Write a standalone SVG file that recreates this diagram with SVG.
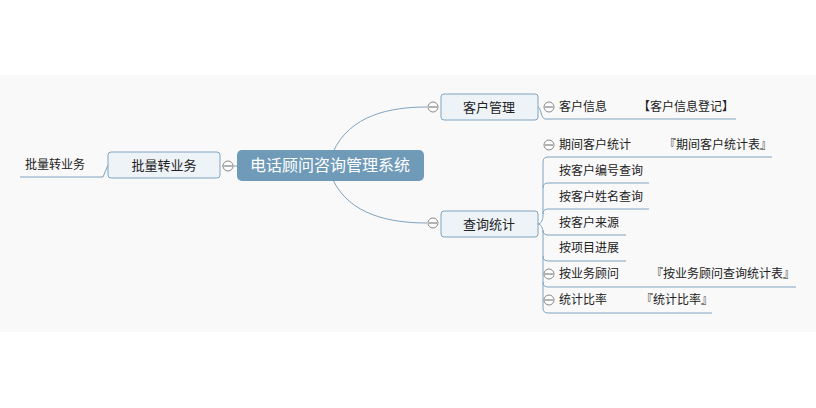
<svg xmlns="http://www.w3.org/2000/svg" width="816" height="408" viewBox="0 0 816 408">
<style>
text{font-family:"Noto Sans CJK SC","Noto Sans",sans-serif;fill:#222}
.t{font-size:12px}
.b{font-size:13px;text-anchor:middle}
.box{fill:#eef3f8;stroke:#7fa3c0;stroke-width:1}
.c{fill:none;stroke:#7fa3c0;stroke-width:1}
.col{fill:#fff;stroke:#888;stroke-width:1}
</style>
<rect x="0" y="0" width="816" height="408" fill="#fff"/>
<rect x="0" y="75" width="816" height="257" fill="#f9f9f9"/>
<g id="connectors">
<path class="c" d="M333 152 C350 115,390 107,427 107"/>
<path class="c" d="M333 180 C350 215,390 223,427 223"/>
<line class="c" x1="222" y1="166" x2="237" y2="166"/>
<path class="c" d="M20 177 H103 L108 165"/>
<path class="c" d="M538 107 C541 107,541 119,545 119 H736"/>
<path class="c" d="M538 224 C541 224,543 220,543 215 V162 Q543 157,548 157 H772"/>
<path class="c" d="M538 224 C541 224,543 228,543 233 V308 Q543 313,548 313 H712"/>
<path class="c" d="M543 188 Q543 183,548 183 H649"/>
<path class="c" d="M543 214 Q543 209,548 209 H649"/>
<path class="c" d="M543 230 Q543 235,548 235 H626"/>
<path class="c" d="M543 256 Q543 261,548 261 H626"/>
<path class="c" d="M543 282 Q543 287,548 287 H796"/>
</g>
<g id="root"><rect x="237" y="150" width="187" height="31" rx="5" fill="#6f9ab8"/><text x="330" y="171" style="font-size:16px;fill:#fff;text-anchor:middle">电话顾问咨询管理系统</text></g>
<g id="n-batch"><rect class="box" x="108" y="152" width="112" height="26" rx="3"/><text class="b" x="164" y="170">批量转业务</text><circle class="col" cx="228" cy="166" r="5"/><line x1="224" y1="166" x2="232" y2="166" stroke="#666"/></g>
<g id="l-batch"><text class="t" x="25" y="169">批量转业务</text></g>
<g id="n-cust"><rect class="box" x="441" y="94" width="97" height="26" rx="3"/><text class="b" x="489" y="112">客户管理</text><circle class="col" cx="433" cy="107" r="5"/><line x1="429" y1="107" x2="437" y2="107" stroke="#666"/></g>
<g id="n-query"><rect class="box" x="441" y="211" width="97" height="26" rx="3"/><text class="b" x="489" y="229">查询统计</text><circle class="col" cx="433" cy="223" r="5"/><line x1="429" y1="223" x2="437" y2="223" stroke="#666"/></g>
<g id="l-custinfo"><circle class="col" cx="549" cy="107" r="5"/><line x1="545" y1="107" x2="553" y2="107" stroke="#666"/><text class="t" x="559" y="111">客户信息</text><text class="t" x="638" y="111">【客户信息登记】</text></g>
<g id="l-period"><circle class="col" cx="549" cy="145" r="5"/><line x1="545" y1="145" x2="553" y2="145" stroke="#666"/><text class="t" x="559" y="149">期间客户统计</text><text class="t" x="664" y="149">『期间客户统计表』</text></g>
<g id="l-q1"><text class="t" x="559" y="175">按客户编号查询</text></g>
<g id="l-q2"><text class="t" x="559" y="201">按客户姓名查询</text></g>
<g id="l-q3"><text class="t" x="559" y="227">按客户来源</text></g>
<g id="l-q4"><text class="t" x="559" y="252">按项目进展</text></g>
<g id="l-q5"><circle class="col" cx="549" cy="274" r="5"/><line x1="545" y1="274" x2="553" y2="274" stroke="#666"/><text class="t" x="559" y="278">按业务顾问</text><text class="t" x="651" y="278">『按业务顾问查询统计表』</text></g>
<g id="l-q6"><circle class="col" cx="549" cy="300" r="5"/><line x1="545" y1="300" x2="553" y2="300" stroke="#666"/><text class="t" x="559" y="304">统计比率</text><text class="t" x="641" y="304">『统计比率』</text></g>
</svg>
